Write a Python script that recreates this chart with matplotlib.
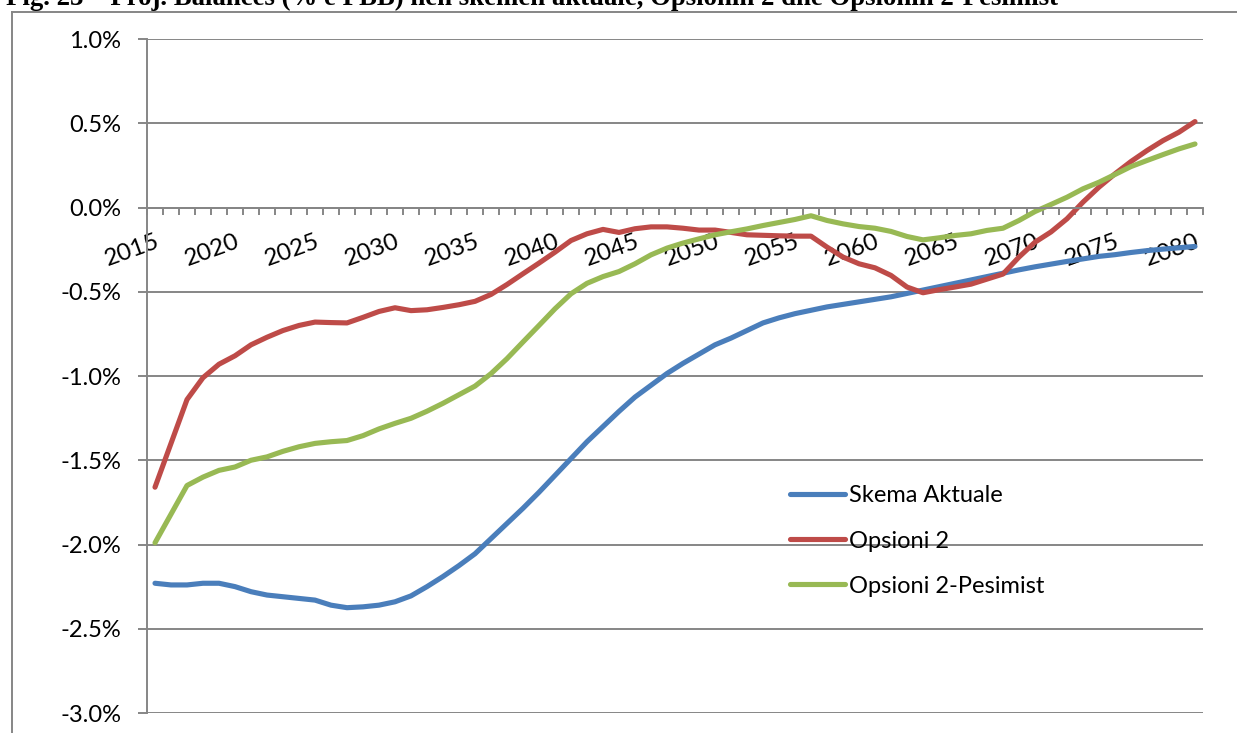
import numpy as np
import matplotlib
matplotlib.use("Agg")
import matplotlib.pyplot as plt
from matplotlib.lines import Line2D

# Years on the category axis
years = np.arange(2015, 2081)

# Pension balance projections, % of GDP
skema_aktuale = [
    -2.23, -2.24, -2.24, -2.23, -2.23, -2.25, -2.28, -2.30, -2.31, -2.32,
    -2.33, -2.36, -2.375, -2.37, -2.36, -2.34, -2.305, -2.25, -2.19, -2.125,
    -2.055, -1.965, -1.875, -1.785, -1.69, -1.59, -1.49, -1.39, -1.30, -1.21,
    -1.125, -1.055, -0.985, -0.925, -0.87, -0.815, -0.775, -0.73, -0.685, -0.655,
    -0.63, -0.61, -0.59, -0.575, -0.56, -0.545, -0.53, -0.51, -0.49, -0.47,
    -0.45, -0.43, -0.41, -0.39, -0.37, -0.352, -0.336, -0.32, -0.305, -0.29,
    -0.28, -0.267, -0.256, -0.247, -0.239, -0.231,
]
opsioni_2 = [
    -1.66, -1.40, -1.14, -1.01, -0.93, -0.88, -0.815, -0.77, -0.73, -0.70,
    -0.68, -0.683, -0.685, -0.652, -0.617, -0.595, -0.612, -0.607, -0.593, -0.577,
    -0.557, -0.516, -0.457, -0.393, -0.33, -0.265, -0.196, -0.156, -0.13, -0.148,
    -0.126, -0.115, -0.115, -0.123, -0.134, -0.134, -0.148, -0.162, -0.165, -0.168,
    -0.17, -0.17, -0.235, -0.294, -0.334, -0.358, -0.403, -0.472, -0.506, -0.488,
    -0.472, -0.455, -0.425, -0.395, -0.294, -0.206, -0.145, -0.067, 0.032, 0.121,
    0.20, 0.273, 0.338, 0.397, 0.447, 0.51,
]
opsioni_2_pesimist = [
    -1.99, -1.82, -1.65, -1.60, -1.56, -1.54, -1.50, -1.48, -1.447, -1.42,
    -1.40, -1.39, -1.383, -1.354, -1.314, -1.281, -1.251, -1.209, -1.162, -1.111,
    -1.06, -0.986, -0.897, -0.798, -0.70, -0.601, -0.512, -0.45, -0.41, -0.38,
    -0.334, -0.281, -0.241, -0.211, -0.186, -0.162, -0.144, -0.127, -0.107, -0.089,
    -0.071, -0.049, -0.077, -0.097, -0.113, -0.123, -0.142, -0.172, -0.192, -0.18,
    -0.166, -0.156, -0.136, -0.123, -0.077, -0.024, 0.018, 0.061, 0.111, 0.15,
    0.196, 0.243, 0.279, 0.314, 0.348, 0.377,
]
labels = ["Skema Aktuale", "Opsioni 2", "Opsioni 2-Pesimist"]
colors = ["#4A7EBB", "#BE4B48", "#98B954"]
y_ticks = [-3.0, -2.5, -2.0, -1.5, -1.0, -0.5, 0.0, 0.5, 1.0]
label_years = years[::5]

title = ("Fig. 23 \u2013 Proj. Balances (% e PBB) n\u00ebn skem\u00ebn aktuale, "
         "Opsionin 2 dhe Opsionin 2-Pesimist")

W, H = 1237, 733
grey = "#868686"
plt.rcParams["font.family"] = ["Lato", "DejaVu Sans"]

fig = plt.figure(figsize=(W / 100, H / 100), dpi=100)
ax = fig.add_axes([147 / W, 20 / H, 1056 / W, 674 / H])

for vals, lab, col in zip([skema_aktuale, opsioni_2, opsioni_2_pesimist], labels, colors):
    ax.plot(years, vals, color=col, lw=3.7, label=lab, solid_capstyle="round",
            solid_joinstyle="round")

ax.set_xlim(years[0] - 0.5, years[-1] + 0.5)
ax.set_ylim(-3.0, 1.0)

# horizontal grid and percentage labels
ax.set_yticks(y_ticks)
ax.set_yticklabels([f"{v:.1f}%" for v in y_ticks])
ax.yaxis.grid(True, color=grey, lw=1.4)
ax.set_axisbelow(True)
ax.tick_params(axis="y", length=6.5, width=1.4, color=grey, pad=12, labelsize=17)

# category axis sits on the zero line
for s in ["top", "right"]:
    ax.spines[s].set_visible(False)
ax.spines["left"].set_color(grey)
ax.spines["left"].set_linewidth(1.4)
ax.spines["bottom"].set_position(("data", 0))
ax.spines["bottom"].set_color(grey)
ax.spines["bottom"].set_linewidth(1.4)

ax.set_xticks(np.arange(years[0] - 0.5, years[-1] + 1.0, 1.0), minor=True)
ax.set_xticks(label_years)
ax.set_xticklabels([str(y) for y in label_years], rotation=20, ha="right",
                   rotation_mode="anchor", fontsize=17.5)
ax.tick_params(axis="x", which="minor", direction="out", length=5, width=1.4, color=grey)
ax.tick_params(axis="x", which="major", length=0, pad=17)

leg = ax.legend(loc="center left", bbox_to_anchor=((790 - 147) / 1056, (713 - 541) / 674),
                frameon=False, fontsize=17, handlelength=2.35, handletextpad=0.15,
                labelspacing=1.02, borderpad=0, borderaxespad=0)

# outer chart frame
fig.add_artist(Line2D([11.5 / W, 11.5 / W], [0, 1 - 12 / H], transform=fig.transFigure,
                      color=grey, lw=1.4))
fig.add_artist(Line2D([11.5 / W, 1.0], [1 - 12 / H, 1 - 12 / H], transform=fig.transFigure,
                      color=grey, lw=1.4))

fig.text(6 / W, 1 - 5 / H, title, fontsize=19.3, fontweight="bold", family="Liberation Serif",
         va="baseline", ha="left")

fig.savefig("out.png", dpi=100)
